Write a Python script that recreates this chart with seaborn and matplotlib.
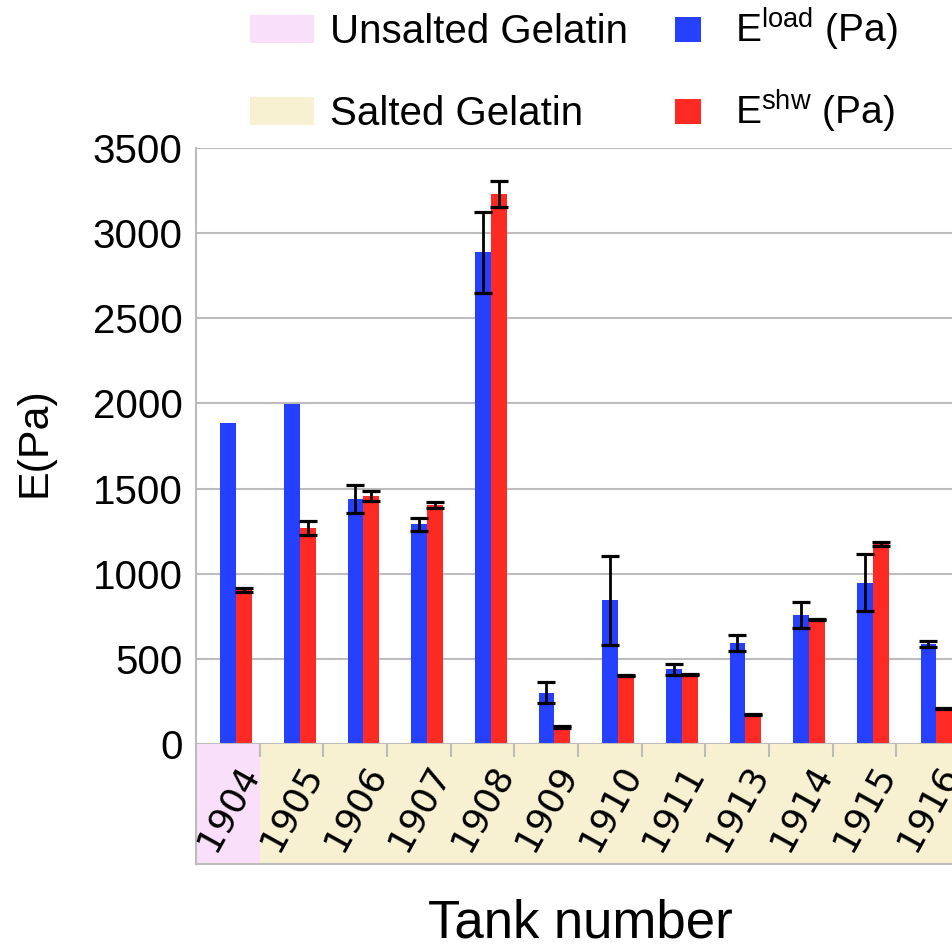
import numpy as np
import pandas as pd
import seaborn as sns
import matplotlib.pyplot as plt
import matplotlib.patches as mpatches

# values
tanks = ['1904', '1905', '1906', '1907', '1908', '1909',
         '1910', '1911', '1913', '1914', '1915', '1916']
e_load = [1884, 1995, 1439, 1290, 2889, 302, 843, 438, 595, 759, 947, 587]
e_load_err = [0, 0, 80, 40, 238, 63, 263, 33, 47, 75, 167, 20]
e_shw = [904, 1268, 1458, 1403, 3230, 100, 403, 409, 172, 732, 1174, 210]
e_shw_err = [12, 40, 30, 20, 78, 4, 4, 4, 4, 4, 12, 4]
unsalted_tanks = ['1904']

series = ['E_load', 'E_shw']
palette = {'E_load': '#2540FF', 'E_shw': '#FF2A24'}
pink = '#F9DFF9'
beige = '#F8F1D1'
gray = '#BCBCBC'

sns.set_style('white')
plt.rcParams['font.family'] = ['Liberation Sans', 'DejaVu Sans']
plt.rcParams['text.color'] = 'black'
plt.rcParams['axes.labelcolor'] = 'black'
plt.rcParams['ytick.color'] = 'black'
plt.rcParams['mathtext.fontset'] = 'custom'
plt.rcParams['mathtext.rm'] = 'Liberation Sans'
plt.rcParams['mathtext.it'] = 'Liberation Sans:italic'

W, H = 953, 948
fig = plt.figure(figsize=(W / 100, H / 100), dpi=100)


def fx(px):
    return px / W


def fy(py):
    return 1 - py / H


ax = fig.add_axes([fx(196), fy(744), fx(960) - fx(196), fy(148) - fy(744)])
band = fig.add_axes([fx(196), fy(864), fx(960) - fx(196), fy(744) - fy(864)])

df = pd.DataFrame({
    'tank': tanks * 2,
    'series': [series[0]] * len(tanks) + [series[1]] * len(tanks),
    'value': e_load + e_shw,
})

sns.barplot(data=df, x='tank', y='value', hue='series', hue_order=series,
            order=tanks, palette=palette, width=0.5, errorbar=None,
            saturation=1, linewidth=0, legend=False, ax=ax)

# error bars on top of each bar, positioned from the drawn bars
for cont, vals, errs in zip(ax.containers, [e_load, e_shw], [e_load_err, e_shw_err]):
    xs, ys, es = [], [], []
    for bar in cont:
        xc = bar.get_x() + bar.get_width() / 2
        i = int(round(xc))
        if errs[i] > 0:
            xs.append(xc)
            ys.append(vals[i])
            es.append(errs[i])
    ax.errorbar(xs, ys, yerr=es, fmt='none', ecolor='black',
                elinewidth=2, capsize=6.8, capthick=2.3, zorder=3)

ax.set_ylim(0, 3500)
ax.set_yticks(range(0, 3501, 500))
ax.set_xlim(-0.63, 11.37)
ax.set_xticks([])
ax.set_xlabel('')
ax.set_ylabel('')
ax.tick_params(axis='y', length=0, pad=9.5, labelsize=29, labelcolor='black')
ax.grid(axis='y', color=gray, lw=1.5)
ax.set_axisbelow(True)
for side in ['top', 'right']:
    ax.spines[side].set_visible(False)
for side in ['left', 'bottom']:
    ax.spines[side].set_color(gray)
    ax.spines[side].set_linewidth(1.5)

# coloured category band under the axis
band.set_xlim(0, 12)
band.set_ylim(0, 1)
for i, t in enumerate(tanks):
    c = pink if t in unsalted_tanks else beige
    band.add_patch(mpatches.Rectangle((i, 0), 1, 1, facecolor=c, edgecolor='none', zorder=0))
    band.text(i + 0.5, 0.47, t, rotation=61, ha='center', va='center',
              fontsize=26, family='DejaVu Sans', color='black')
band.set_xticks(range(1, 12))
band.set_yticks([])
band.tick_params(axis='x', top=True, bottom=False, labeltop=False, labelbottom=False,
                 direction='in', length=9.4, width=1.5, color=gray)
for side in ['top', 'right']:
    band.spines[side].set_visible(False)
for side in ['left', 'bottom']:
    band.spines[side].set_color(gray)
    band.spines[side].set_linewidth(1.5)

fig.text(fx(580), fy(938), 'Tank number', ha='center', va='baseline', fontsize=38)
fig.text(fx(35), fy(442), 'E(Pa)', ha='center', va='center', rotation=90, fontsize=31)

# legend drawn by hand in figure pixels
legend_rows = [
    (pink, 'Unsalted Gelatin', palette['E_load'], r'E$^{\mathrm{load}}$ (Pa)', 15, 43),
    (beige, 'Salted Gelatin', palette['E_shw'], r'E$^{\mathrm{shw}}$ (Pa)', 97, 125),
]
for band_c, band_txt, ser_c, ser_txt, top, base in legend_rows:
    fig.add_artist(mpatches.Rectangle((fx(250), fy(base)), fx(314) - fx(250), fy(top) - fy(base),
                                      facecolor=band_c, edgecolor='none',
                                      transform=fig.transFigure))
    fig.text(fx(330), fy(base), band_txt, ha='left', va='baseline', fontsize=29)
    fig.add_artist(mpatches.Rectangle((fx(675), fy(base - 1)), fx(701) - fx(675), fy(top + 2) - fy(base - 1),
                                      facecolor=ser_c, edgecolor='none',
                                      transform=fig.transFigure))
    fig.text(fx(735), fy(base), ser_txt, ha='left', va='baseline', fontsize=28)

fig.savefig('out.png', dpi=100)
